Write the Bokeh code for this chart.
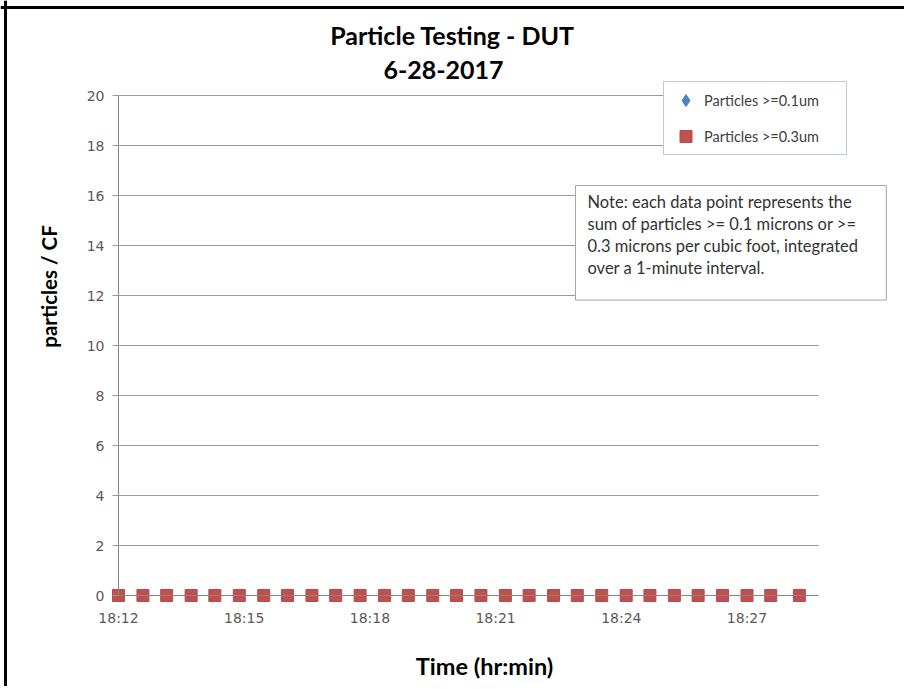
import numpy as np
import pandas as pd
from bokeh.plotting import figure
from bokeh.models import (Range1d, FixedTicker, DatetimeTickFormatter, Span, Label,
                          Legend, LegendItem, ColumnDataSource)
from bokeh.embed import file_html
from bokeh.resources import INLINE

# ---------------- data ----------------
DATE = "2017-06-28"
times = ["18:12:00", "18:12:35", "18:13:09", "18:13:44", "18:14:18", "18:14:53",
         "18:15:28", "18:16:02", "18:16:37", "18:17:11", "18:17:46", "18:18:21",
         "18:18:55", "18:19:30", "18:20:04", "18:20:39", "18:21:14", "18:21:48",
         "18:22:23", "18:22:57", "18:23:32", "18:24:07", "18:24:41", "18:25:16",
         "18:25:50", "18:26:25", "18:27:00", "18:27:34", "18:28:15"]
particles_01 = [0, 0, 0, 0, 0, 0, 0, 0, 0, 0, 0, 0, 0, 0, 0, 0, 0, 0, 0, 0,
                0, 0, 0, 0, 0, 0, 0, 0, 0]
particles_03 = [0, 0, 0, 0, 0, 0, 0, 0, 0, 0, 0, 0, 0, 0, 0, 0, 0, 0, 0, 0,
                0, 0, 0, 0, 0, 0, 0, 0, 0]
series_names = ["Particles >=0.1um", "Particles >=0.3um"]
x_tick_labels = ["18:12", "18:15", "18:18", "18:21", "18:24", "18:27"]
y_ticks = [0, 2, 4, 6, 8, 10, 12, 14, 16, 18, 20]
x_axis_first = "18:12:00"
x_axis_last = "18:28:42"
title_1 = "Particle Testing - DUT"
title_2 = "6-28-2017"
x_title = "Time (hr:min)"
y_title = "particles / CF"
note = ("Note:  each data point represents the\n"
        "sum of particles >= 0.1 microns or >=\n"
        "0.3 microns per cubic foot, integrated\n"
        "over a 1-minute interval.")


def ms(t):
    ts = pd.Timestamp(f"{DATE} {t}")
    return (ts - pd.Timestamp("1970-01-01")) / pd.Timedelta(milliseconds=1)


# ---------------- geometry (pixels) ----------------
W, H = 904, 686
AX_LEFT_PX = 118          # where x_axis_first sits
PX_PER_MIN = 41.9
Y0_PX, Y20_PX = 595, 95   # pixel rows of 0 and 20
px_per_unit = (Y0_PX - Y20_PX) / 20.0
MIN_MS = 60000.0

x0 = ms(x_axis_first)
x_start = x0 - AX_LEFT_PX / PX_PER_MIN * MIN_MS
x_end = x0 + (W - AX_LEFT_PX) / PX_PER_MIN * MIN_MS
y_start = -(H - Y0_PX) / px_per_unit
y_end = 20 + Y20_PX / px_per_unit

x_ms = [ms(t) for t in times]
src = ColumnDataSource(dict(x=x_ms, a=particles_01, b=particles_03))

FONT = "Lato"
GRID = "#9A9A9A"
AXIS = "#868686"
TICK_TXT = "#595959"

p = figure(width=W, height=H, title=None,
           x_axis_type="datetime",
           x_range=Range1d(x_start, x_end),
           y_range=Range1d(y_start, y_end),
           output_backend="svg", toolbar_location=None,
           min_border=0,
           background_fill_color="white", border_fill_color="white",
           outline_line_color=None)

# grid
p.xgrid.grid_line_color = None
p.ygrid.grid_line_color = GRID
p.ygrid.grid_line_width = 1
p.ygrid.ticker = FixedTicker(ticks=y_ticks)
p.ygrid.cross_bounds = (x0, ms(x_axis_last))

# y axis
p.yaxis.fixed_location = x0
p.yaxis.bounds = (0, 20)
p.yaxis.ticker = FixedTicker(ticks=y_ticks)
p.yaxis.axis_line_color = AXIS
p.yaxis.major_tick_line_color = GRID
p.yaxis.minor_tick_line_color = None
p.yaxis.major_tick_out = 6
p.yaxis.major_tick_in = 0
p.yaxis.major_label_standoff = 8
p.yaxis.major_label_text_font = "DejaVu Sans"
p.yaxis.major_label_text_font_size = "14px"
p.yaxis.major_label_text_color = TICK_TXT

# x axis
p.xaxis.fixed_location = 0
p.xaxis.bounds = (x0, ms(x_axis_last))
p.xaxis.ticker = FixedTicker(ticks=[ms(t + ":00") for t in x_tick_labels])
p.xaxis.formatter = DatetimeTickFormatter(seconds="%H:%M", minsec="%H:%M",
                                          minutes="%H:%M", hourmin="%H:%M",
                                          hours="%H:%M")
p.xaxis.axis_line_color = AXIS
p.xaxis.major_tick_line_color = None
p.xaxis.minor_tick_line_color = None
p.xaxis.major_tick_out = 0
p.xaxis.major_tick_in = 0
p.xaxis.major_label_standoff = 14
p.xaxis.major_label_text_font = "DejaVu Sans"
p.xaxis.major_label_text_font_size = "14px"
p.xaxis.major_label_text_color = TICK_TXT

# outer chart border (left and top edges visible)
p.add_layout(Span(location=5, location_units="screen", dimension="height",
                  line_color="black", line_width=3))
p.add_layout(Span(location=H - 7, location_units="screen", dimension="width",
                  line_color="black", line_width=3))

# series
r1 = p.scatter("x", "a", source=src, marker="diamond", size=12,
               fill_color="#4F81BD", line_color="#4F81BD")
r2 = p.scatter("x", "b", source=src, marker="square", size=12,
               fill_color="#C0504D", line_color="#B9494A")

legend = Legend(items=[LegendItem(label=series_names[0], renderers=[r1]),
                       LegendItem(label=series_names[1], renderers=[r2])],
                location=(663, H - 155), orientation="vertical",
                padding=3, spacing=6, margin=0,
                glyph_height=30, glyph_width=37, label_height=30,
                label_width=139, label_standoff=0,
                border_line_color="#7D96B6", border_line_width=1,
                background_fill_color="white", background_fill_alpha=1,
                label_text_font=FONT, label_text_font_size="14.5px",
                label_text_color="#404040")
p.add_layout(legend)

# titles
p.add_layout(Label(x=452, y=H - 34, x_units="screen", y_units="screen", text=title_1,
                   text_align="center", text_baseline="middle",
                   text_font=FONT, text_font_style="bold", text_font_size="25px",
                   text_color="black"))
p.add_layout(Label(x=443, y=H - 69, x_units="screen", y_units="screen", text=title_2,
                   text_align="center", text_baseline="middle",
                   text_font=FONT, text_font_style="bold", text_font_size="25px",
                   text_color="black"))

# axis titles
p.add_layout(Label(x=484, y=H - 665, x_units="screen", y_units="screen", text=x_title,
                   text_align="center", text_baseline="middle",
                   text_font=FONT, text_font_style="bold", text_font_size="23.5px",
                   text_color="black"))
p.add_layout(Label(x=48, y=H - 286, x_units="screen", y_units="screen", text=y_title,
                   angle=np.pi / 2, text_align="center", text_baseline="middle",
                   text_font=FONT, text_font_style="bold", text_font_size="20.5px",
                   text_color="black"))

# note box (padding: left, right, top, bottom)
p.add_layout(Label(x=575, y=H - 185, x_units="screen", y_units="screen", text=note,
                   text_align="left", text_baseline="top",
                   text_font=FONT, text_font_size="16.5px", text_line_height=1.11,
                   text_color="#333333",
                   background_fill_color="white", background_fill_alpha=1,
                   border_line_color="#A6A6A6", border_line_width=1,
                   padding=(12, 28, 6, 22)))

open("out.html", "w").write(file_html(p, INLINE))
